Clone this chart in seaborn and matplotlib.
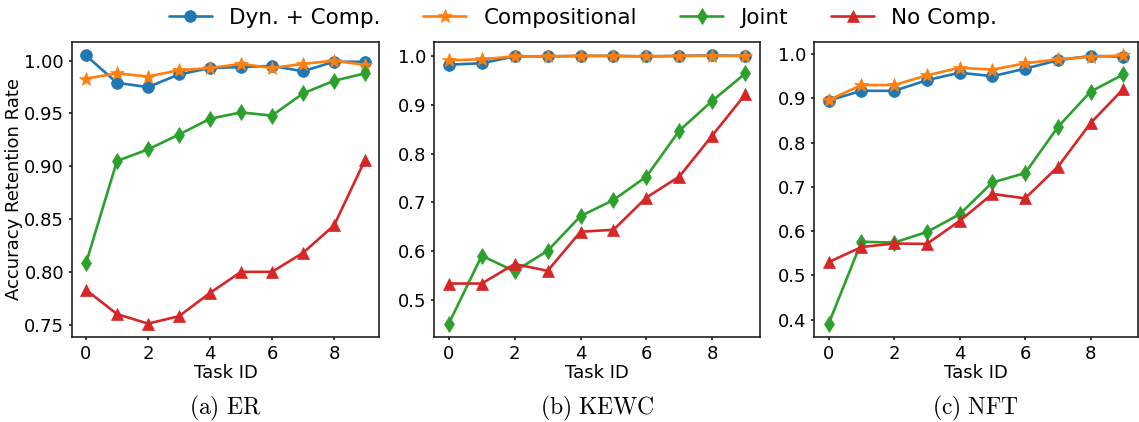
import numpy as np
import pandas as pd
import matplotlib
matplotlib.use("Agg")
import matplotlib.pyplot as plt
import seaborn as sns

task_ids = list(range(10))
series_names = ["Dyn. + Comp.", "Compositional", "Joint", "No Comp."]
colors = ["#1f77b4", "#ff7f0e", "#2ca02c", "#d62728"]
markers = ["o", "*", "d", "^"]
panel_titles = [r"$\mathrm{(a)\ ER}$", r"$\mathrm{(b)\ KEWC}$", r"$\mathrm{(c)\ NFT}$"]

# Panel (a) ER
er_dyn = [1.005, 0.979, 0.975, 0.987, 0.993, 0.994, 0.995, 0.990, 0.999, 0.999]
er_comp = [0.983, 0.988, 0.985, 0.991, 0.993, 0.997, 0.993, 0.997, 1.000, 0.996]
er_joint = [0.808, 0.905, 0.916, 0.930, 0.945, 0.951, 0.948, 0.969, 0.981, 0.988]
er_nocomp = [0.783, 0.760, 0.751, 0.758, 0.780, 0.800, 0.800, 0.818, 0.844, 0.906]

# Panel (b) KEWC
kewc_dyn = [0.982, 0.985, 0.999, 0.999, 1.000, 1.000, 0.999, 1.000, 1.001, 1.000]
kewc_comp = [0.991, 0.993, 0.999, 0.999, 1.000, 1.000, 0.999, 1.000, 1.000, 1.000]
kewc_joint = [0.452, 0.591, 0.559, 0.601, 0.672, 0.705, 0.753, 0.847, 0.908, 0.964]
kewc_nocomp = [0.534, 0.534, 0.574, 0.560, 0.640, 0.644, 0.710, 0.753, 0.837, 0.921]

# Panel (c) NFT
nft_dyn = [0.895, 0.917, 0.917, 0.941, 0.958, 0.950, 0.967, 0.986, 0.996, 0.994]
nft_comp = [0.896, 0.930, 0.930, 0.952, 0.969, 0.965, 0.979, 0.988, 0.994, 0.997]
nft_joint = [0.391, 0.576, 0.574, 0.598, 0.638, 0.710, 0.731, 0.835, 0.915, 0.954]
nft_nocomp = [0.530, 0.564, 0.572, 0.571, 0.623, 0.684, 0.674, 0.745, 0.844, 0.921]

panels = [
    [er_dyn, er_comp, er_joint, er_nocomp],
    [kewc_dyn, kewc_comp, kewc_joint, kewc_nocomp],
    [nft_dyn, nft_comp, nft_joint, nft_nocomp],
]

sns.set_theme(style="ticks")
plt.rcParams.update({
    "font.family": ["DejaVu Sans"],
    "mathtext.fontset": "cm",
    "axes.edgecolor": "#222222",
    "axes.linewidth": 1.2,
    "xtick.major.size": 2.5,
    "ytick.major.size": 2.5,
    "xtick.major.pad": 3.2,
    "ytick.major.pad": 3.2,
    "xtick.color": "#222222",
    "ytick.color": "#222222",
    "xtick.labelcolor": "black",
    "ytick.labelcolor": "black",
    "xtick.labelsize": 13,
    "ytick.labelsize": 13,
    "axes.labelsize": 13,
    "text.color": "black",
    "axes.labelcolor": "black",
})

W, H = 1139, 422
fig = plt.figure(figsize=(W / 100, H / 100), dpi=100)
boxes = [(72, 379), (434, 760), (814, 1138)]
top_px, bot_px = 42, 337
axes = []
for (l, r) in boxes:
    ax = fig.add_axes([l / W, 1 - bot_px / H, (r - l) / W, (bot_px - top_px) / H])
    axes.append(ax)

for ax, data, title, (l, r) in zip(axes, panels, panel_titles, boxes):
    for vals, name, c, m in zip(data, series_names, colors, markers):
        ms = 10.5 if m == "*" else 8.5
        sns.lineplot(x=task_ids, y=vals, ax=ax, color=c, marker=m, markersize=ms,
                     markeredgecolor=c, markeredgewidth=0.5, linewidth=1.9,
                     label=name, legend=False)
    ax.set_xlabel("Task ID", labelpad=1)
    ax.set_xticks([0, 2, 4, 6, 8])
    fig.text((l + r) / 2 / W, 1 - 408 / H, title, ha="center", va="center",
             fontsize=17)

axes[0].set_ylabel("Accuracy Retention Rate", fontsize=13, labelpad=1)
axes[0].yaxis.set_major_formatter(matplotlib.ticker.FormatStrFormatter("%.2f"))

handles, labels = axes[0].get_legend_handles_labels()
fig.legend(handles, labels, loc="center", bbox_to_anchor=(583 / W, 1 - 18 / H),
           ncol=4, frameon=False, fontsize=15.5)

fig.savefig("out.png", dpi=100)
